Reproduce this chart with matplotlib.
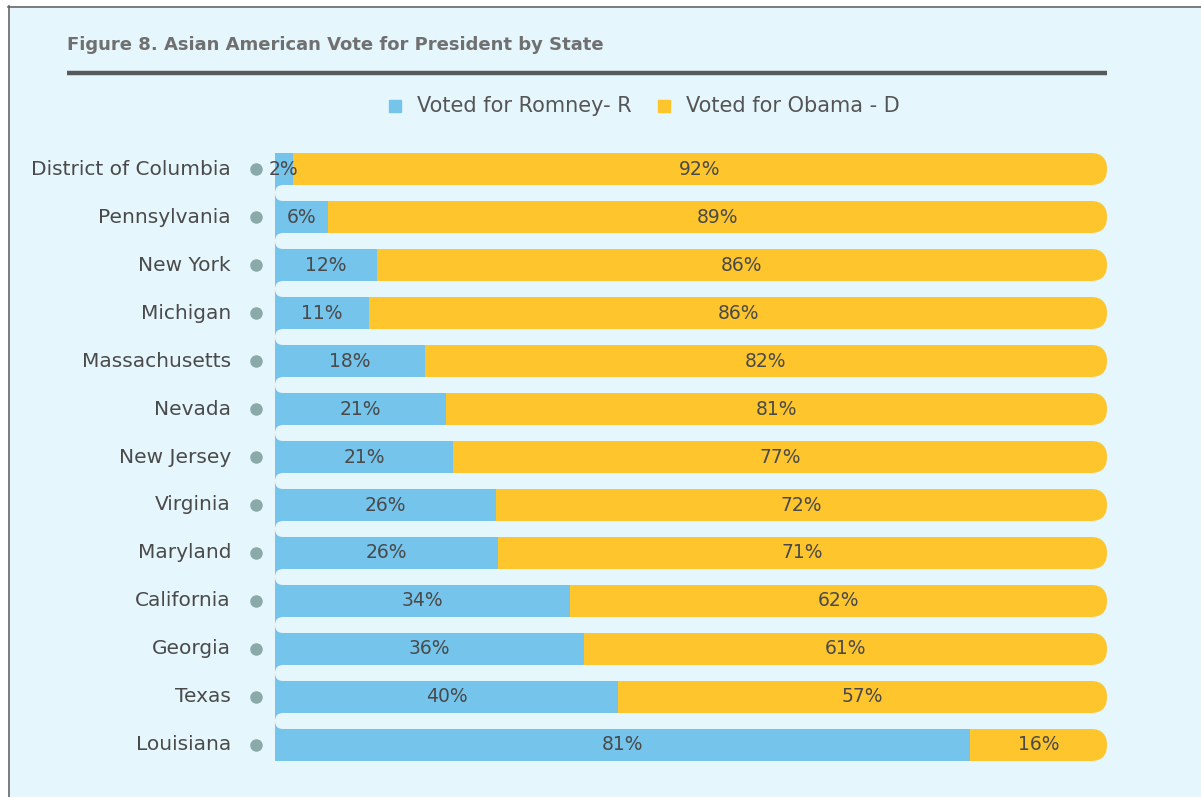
import matplotlib.pyplot as plt
import matplotlib.transforms as mtransforms
from matplotlib.patches import FancyBboxPatch, Rectangle
from matplotlib.lines import Line2D

# vote shares, top to bottom
states = ["District of Columbia", "Pennsylvania", "New York", "Michigan",
          "Massachusetts", "Nevada", "New Jersey", "Virginia", "Maryland",
          "California", "Georgia", "Texas", "Louisiana"]
romney = [2, 6, 12, 11, 18, 21, 21, 26, 26, 34, 36, 40, 81]
obama = [92, 89, 86, 86, 82, 81, 77, 72, 71, 62, 61, 57, 16]

BG = "#e5f6fd"
BLUE = "#74c4ec"
YELLOW = "#fec52d"
TEXT = "#4a4a4a"
FONT = "DejaVu Sans"

W, H = 1201, 797
fig = plt.figure(figsize=(W / 100, H / 100), dpi=100, facecolor=BG)

def fx(px):
    return px / W

def fy(py):
    return 1 - py / H

# white margin + frame lines
fig.add_artist(Rectangle((0, fy(6)), 1, 6 / H, transform=fig.transFigure, color="white", zorder=0))
fig.add_artist(Rectangle((0, 0), fx(8), 1, transform=fig.transFigure, color="white", zorder=0))
fig.add_artist(Line2D([fx(8), 1], [fy(6.5), fy(6.5)], transform=fig.transFigure, color="#666666", lw=1.2))
fig.add_artist(Line2D([fx(8.5), fx(8.5)], [0, fy(6)], transform=fig.transFigure, color="#666666", lw=1.2))

# title and rule
fig.text(fx(67), fy(45), "Figure 8. Asian American Vote for President by State", fontsize=13,
         fontweight="bold", color="#707070", family=FONT, va="center", ha="left")
fig.add_artist(Line2D([fx(67), fx(1107)], [fy(73), fy(73)], transform=fig.transFigure,
                      color="#58595b", lw=3.2, solid_capstyle="butt"))

# legend
for sx, tx, col, lab in [(395, 417, BLUE, "Voted for Romney- R"), (664, 686, YELLOW, "Voted for Obama - D")]:
    fig.add_artist(Rectangle((fx(sx - 6), fy(112)), 12 / W, 12 / H, transform=fig.transFigure, color=col))
    fig.text(fx(tx), fy(106), lab, fontsize=15, color="#555555", family=FONT, va="center", ha="left")

x0, x1 = 275, 1107
ax = fig.add_axes([fx(x0), fy(769), (x1 - x0) / W, (769 - 145) / H])
ax.set_facecolor("none")
ax.set_xlim(0, 1)
ax.set_ylim(len(states) - 0.5, -0.5)
ax.axis("off")

px_x = 1 / (x1 - x0)      # one pixel in x data units
px_y = 1 / 48             # one pixel in y data units (48 px per row)
aspect = px_y / px_x
bh = 32 * px_y
cap = 16 * px_x

# blue spine on the left with rounded outer corners
n = len(states)
ax.add_patch(FancyBboxPatch((-1.5 * px_x, -bh / 2), 0.06, n - 1 + bh,
                            boxstyle=f"round,pad=0,rounding_size={cap}",
                            mutation_aspect=aspect, color=BLUE, lw=0, zorder=1))

for i, (s, r, o) in enumerate(zip(states, romney, obama)):
    tot = r + o
    rw = r / tot
    ow = o / tot
    ax.barh(i, rw, left=0, height=bh, color=BLUE, lw=0, zorder=2)
    ax.barh(i, ow - cap, left=rw, height=bh, color=YELLOW, lw=0, zorder=2)
    ax.add_patch(FancyBboxPatch((1 - min(ow, 0.1), i - bh / 2), min(ow, 0.1), bh,
                                boxstyle=f"round,pad=0,rounding_size={cap}",
                                mutation_aspect=aspect, color=YELLOW, lw=0, zorder=2))
    ax.text(rw / 2, i, f"{r}%", ha="center", va="center", fontsize=13.5, color=TEXT, family=FONT, zorder=4)
    ax.text(rw + ow / 2, i, f"{o}%", ha="center", va="center", fontsize=13.5, color=TEXT, family=FONT, zorder=4)

# gaps between rows with rounded left ends
for i in range(n - 1):
    ax.add_patch(FancyBboxPatch((0, i + bh / 2), 0.1, 1 - bh,
                                boxstyle=f"round,pad=0,rounding_size={8 * px_x}",
                                mutation_aspect=aspect, color=BG, lw=0, zorder=3))

lab_tr = ax.get_yaxis_transform() + mtransforms.ScaledTranslation(-44 / 100, 0, fig.dpi_scale_trans)
dot_tr = ax.get_yaxis_transform() + mtransforms.ScaledTranslation(-19 / 100, 0, fig.dpi_scale_trans)
for i, s in enumerate(states):
    ax.text(0, i, s, transform=lab_tr, ha="right", va="center", fontsize=14.5, color=TEXT, family=FONT)
    ax.plot(0, i, "o", transform=dot_tr, ms=8, color="#8aa9a9", clip_on=False)

fig.savefig("out.png", dpi=100, facecolor=BG)
